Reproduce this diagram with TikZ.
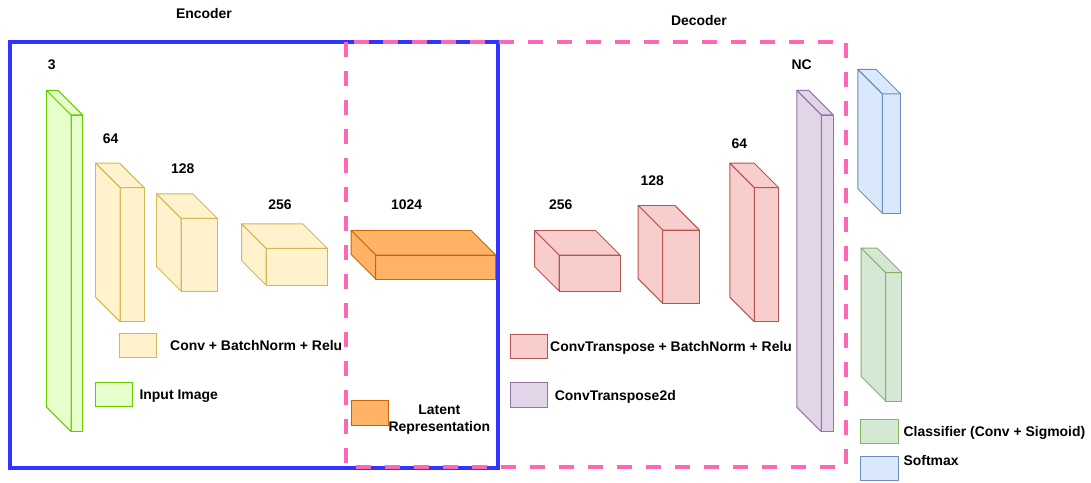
\documentclass[tikz,border=0pt]{standalone}
\usepackage{fontspec}
\setmainfont{Liberation Sans}
\usetikzlibrary{positioning}

\definecolor{inpfill}{HTML}{E6FFCC}
\definecolor{inpdraw}{HTML}{66CC00}
\definecolor{encfill}{HTML}{FFF2CC}
\definecolor{encdraw}{HTML}{D6B656}
\definecolor{latfill}{HTML}{FFB366}
\definecolor{latdraw}{HTML}{CC6600}
\definecolor{decfill}{HTML}{F8CECC}
\definecolor{decdraw}{HTML}{B85450}
\definecolor{outfill}{HTML}{E1D5E7}
\definecolor{outdraw}{HTML}{9673A6}
\definecolor{smfill}{HTML}{DAE8FC}
\definecolor{smdraw}{HTML}{6C8EBF}
\definecolor{clsfill}{HTML}{D5E8D4}
\definecolor{clsdraw}{HTML}{82B366}
\definecolor{encline}{HTML}{3333FF}
\definecolor{decline}{HTML}{FF66B3}

% front face as a node, top and side faces drawn from its corners
\newcommand{\cnnlayer}[6]{%
  \node[front, fill=#6fill, draw=#6draw, minimum width=#4*0.03cm, minimum height=#5*0.03cm] (#1) at (#2,#3) {};
  \filldraw[face, fill=#6fill, draw=#6draw] (#1.north west) -- ++(-24.5,-24.5) -- ++(#4,0) -- (#1.north east) -- cycle;
  \filldraw[face, fill=#6fill, draw=#6draw] (#1.north west) -- ++(-24.5,-24.5) -- ++(0,#5) -- (#1.south west) -- cycle;
}

\begin{document}
\begin{tikzpicture}[
  x=0.03cm, y=-0.03cm,
  front/.style={rectangle, anchor=north west, inner sep=0pt, outer sep=0pt, line width=0.85pt},
  face/.style={line width=0.85pt, line join=round},
  legbox/.style={rectangle, anchor=north west, inner sep=0pt, outer sep=0pt, line width=0.85pt, minimum width=1.12cm, minimum height=0.74cm},
  txt/.style={inner sep=0pt, font=\bfseries\fontsize{11.9}{14.3}\selectfont, text height=8.5pt, text depth=0pt},
  num/.style={txt}]
\useasboundingbox (0,0) rectangle (1091,483);

\cnnlayer{inp}{71}{115}{11.7}{316.7}{inp}
\cnnlayer{enc64}{120}{187.7}{24}{134}{enc}
\cnnlayer{enc128}{181}{218.3}{36.3}{72.7}{enc}
\cnnlayer{enc256}{266}{248.3}{61.3}{36.7}{enc}
\cnnlayer{lat}{375.7}{255}{120}{24}{lat}
\cnnlayer{dec256}{559}{255}{61}{36}{dec}
\cnnlayer{dec128}{662.7}{230}{36.6}{73.3}{dec}
\cnnlayer{dec64}{754.3}{187.7}{24.4}{134}{dec}
\cnnlayer{out}{821.3}{115}{12}{316.7}{out}
\cnnlayer{soft}{882.3}{94}{18.4}{119.3}{sm}
\cnnlayer{cls}{885.7}{272.7}{16}{128.3}{cls}

\node[num] (ninp) at (51.7,65) {3};
\node[num] (nenc64) at (110.7,138.3) {64};
\node[num] (nenc128) at (182.7,168.3) {128};
\node[num] (nenc256) at (280,205) {256};
\node[num] (nlat) at (406.7,205) {1024};
\node[num] (ndec256) at (560.7,205) {256};
\node[num] (ndec128) at (652.3,181) {128};
\node[num] (ndec64) at (739.3,144) {64};
\node[num] (nout) at (801.7,65) {NC};

\draw[encline, line width=3.4pt] (10,42) rectangle (497.7,467.7);
\draw[decline, line width=3.4pt, dash pattern=on 0.45cm off 0.42cm] (345.7,42) rectangle (845.7,467);
\node[txt] (enctitle) at (204,14) {Encoder};
\node[txt] (dectitle) at (699,21) {Decoder};

\node[legbox, fill=encfill, draw=encdraw] (legenc) at (119.3,333.3) {};
\node[txt, right=0.4cm of legenc] (legenctxt) {Conv + BatchNorm + Relu};
\node[legbox, fill=inpfill, draw=inpdraw] (leginp) at (95,382.3) {};
\node[txt, right=0.21cm of leginp] (leginptxt) {Input Image};
\node[legbox, fill=latfill, draw=latdraw] (leglat) at (351,400.7) {};
\node[txt, align=center, right=0pt of leglat, yshift=-0.41cm] (leglattxt) {Latent\\Representation};
\node[legbox, fill=decfill, draw=decdraw] (legdec) at (510,334) {};
\node[txt, right=0.08cm of legdec] (legdectxt) {ConvTranspose + BatchNorm + Relu};
\node[legbox, fill=outfill, draw=outdraw] (legout) at (510,382.7) {};
\node[txt, right=0.22cm of legout] (legouttxt) {ConvTranspose2d};
\node[legbox, fill=clsfill, draw=clsdraw] (legcls) at (860.7,419.3) {};
\node[txt, right=0.16cm of legcls] (legclstxt) {Classifier (Conv + Sigmoid)};
\node[legbox, fill=smfill, draw=smdraw] (legsm) at (860.7,456) {};
\node[txt, right=0.16cm of legsm, yshift=0.24cm] (legsmtxt) {Softmax};
\end{tikzpicture}
\end{document}
